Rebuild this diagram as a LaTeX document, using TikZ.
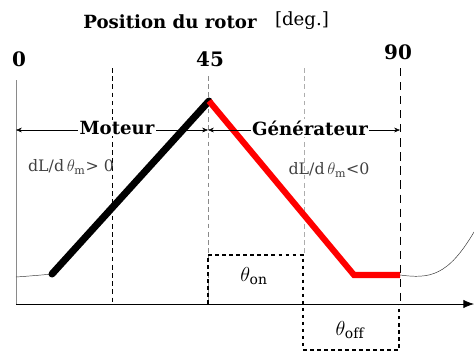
\documentclass[tikz,border=0pt]{standalone}
\usepackage{fontspec}
\setmainfont{DejaVu Serif}
\usepackage{tikz}
\usetikzlibrary{arrows.meta, positioning, calc}
\definecolor{ink}{HTML}{000000}
\definecolor{hotred}{HTML}{FF0000}
\definecolor{guide}{HTML}{8A8A8A}

\begin{document}
\begin{tikzpicture}[x=0.03cm, y=-0.03cm,
  boldlbl/.style={font=\fontsize{15.5}{17}\selectfont\bfseries, inner sep=1pt},
  thinlbl/.style={font=\fontsize{13.5}{15}\selectfont, text=ink!75, inner sep=1pt},
  guideline/.style={thin, dash pattern=on 4pt off 3pt},
  boxline/.style={line width=2.4pt, dash pattern=on 3pt off 3pt},
  span/.style={{Stealth[length=5pt,width=4pt]}-{Stealth[length=5pt,width=4pt]}, thin}]
  % pixel grid of the 474x354 figure, y going down
  \useasboundingbox (0,0) rectangle (474,354);

  % key points of the inductance profile
  \coordinate (orig)  at (16,304);
  \coordinate (ytop)  at (16,80);
  \coordinate (xend)  at (474,304);
  \coordinate (base0) at (16,277);
  \coordinate (rise)  at (52,274);
  \coordinate (peak)  at (209,101);
  \coordinate (fall)  at (354,275);
  \coordinate (off)   at (400,275);
  \coordinate (exit)  at (474,232);

  % titles and angle marks
  \node[boldlbl] (title) at (170,22) {Position du rotor};
  \node[font=\fontsize{15.5}{17}\selectfont, inner sep=1pt] (unit) at (302,21) {[deg.]};
  \node[boldlbl, font=\fontsize{17}{19}\selectfont\bfseries] (deg0)  at (19,59) {0};
  \node[boldlbl, font=\fontsize{17}{19}\selectfont\bfseries] (deg45) at (210,59) {45};
  \node[boldlbl, font=\fontsize{17}{19}\selectfont\bfseries] (deg90) at (398,52) {90};

  % guide lines
  \coordinate (g1t) at (112,68);  \coordinate (g1b) at (112,304);
  \coordinate (g2t) at (208,76);  \coordinate (g2b) at (208,304);
  \coordinate (g3t) at (304,68);  \coordinate (g3b) at (304,254);
  \coordinate (g4t) at (400,68);  \coordinate (g4b) at (400,304);
  \draw[guideline, ink] (g1t) -- (g1b);
  \draw[guideline, guide] (g2t) -- (g2b);
  \draw[guideline, guide!70] (g3t) -- (g3b);
  \draw[ink, thin, dash pattern=on 7pt off 5pt] (g4t) -- (g4b);

  % axes
  \draw[guide, semithick] (ytop) -- (orig);
  \draw[ink, semithick, -{Latex[length=9pt,width=7pt]}] (orig) -- (xend);

  % profile
  \draw[ink!80, thin] (base0) .. controls (30,276) and (42,275) .. (rise);
  \draw[ink, line width=6pt, line cap=round] (rise) -- (peak);
  \draw[hotred, line width=5.2pt, line join=miter] (peak) -- (fall) -- (off);
  \draw[ink!80, thin] (off) .. controls (430,279) and (448,276) .. (exit);

  % motor / generator spans
  \coordinate (mL) at (16,130);
  \coordinate (mM) at (208,130);
  \coordinate (mR) at (400,130);
  \draw[span] (mL) -- (mM);
  \draw[span] (mM) -- (mR);
  \node[boldlbl, fill=white] (moteur) at (117,128) {Moteur};
  \node[boldlbl, fill=white] (gen) at (310,128) {Générateur};

  % slopes
  \node[thinlbl] (slopepos) at (71,167) {dL/d\,$\theta_{\mathrm{m}}$> 0};
  \node[thinlbl] (slopeneg) at (329,170) {dL/d\,$\theta_{\mathrm{m}}$<0};

  % conduction windows
  \coordinate (onA) at (208,304);  \coordinate (onB) at (208,255);
  \coordinate (onC) at (303,255);  \coordinate (onD) at (303,350);
  \coordinate (offA) at (399,350); \coordinate (offB) at (399,304);
  \draw[boxline] (onA) -- (onB) -- (onC) -- (onD) -- (offA) -- (offB);
  \node[font=\fontsize{17}{19}\selectfont] (thon) at (254,276) {$\theta_{\mathrm{on}}$};
  \node[font=\fontsize{17}{19}\selectfont] (thoff) at (350,330) {$\theta_{\mathrm{off}}$};
\end{tikzpicture}
\end{document}
